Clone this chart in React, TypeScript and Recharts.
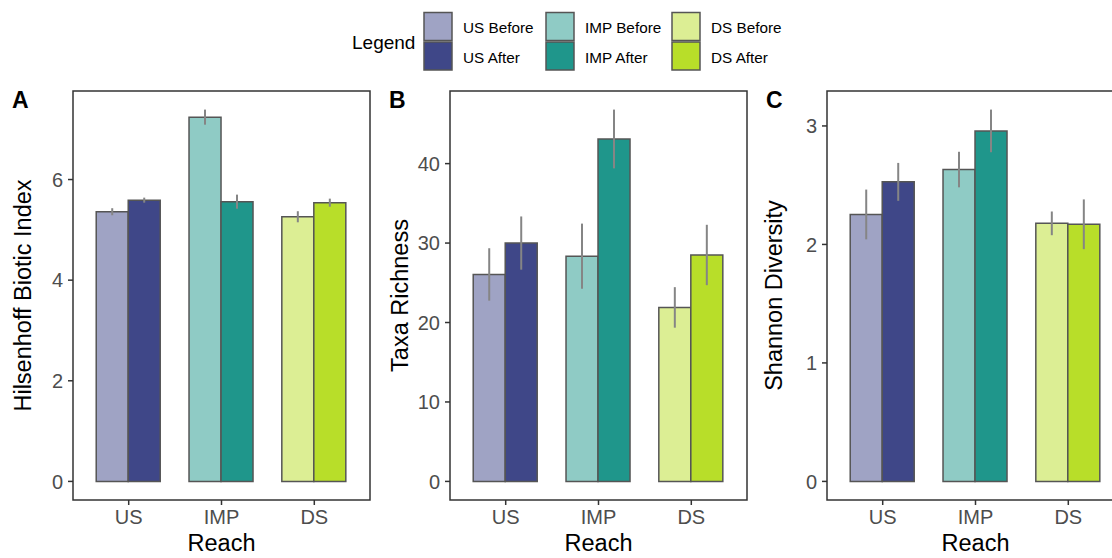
import * as React from 'react'
import { BarChart, Bar, XAxis, YAxis, Cell, ErrorBar } from 'recharts'

const REACHES = ['US', 'IMP', 'DS']

// Hilsenhoff Biotic Index (mean and SE)
const HBI_BEFORE = [5.36, 7.24, 5.26]
const HBI_BEFORE_SE = [0.07, 0.15, 0.11]
const HBI_AFTER = [5.59, 5.56, 5.54]
const HBI_AFTER_SE = [0.05, 0.14, 0.08]
const HBI_TICKS = [0, 2, 4, 6]

// Taxa richness
const RICH_BEFORE = [26.05, 28.35, 21.9]
const RICH_BEFORE_SE = [3.3, 4.1, 2.55]
const RICH_AFTER = [30.0, 43.1, 28.5]
const RICH_AFTER_SE = [3.35, 3.7, 3.8]
const RICH_TICKS = [0, 10, 20, 30, 40]

// Shannon diversity
const SHAN_BEFORE = [2.253, 2.632, 2.178]
const SHAN_BEFORE_SE = [0.21, 0.15, 0.1]
const SHAN_AFTER = [2.528, 2.958, 2.17]
const SHAN_AFTER_SE = [0.16, 0.18, 0.21]
const SHAN_TICKS = [0, 1, 2, 3]

const BEFORE_COLORS = ['#9fa3c4', '#8fcbc5', '#dcee94']
const AFTER_COLORS = ['#3f4788', '#1f968b', '#b8de29']

const FONT = '"Liberation Sans", Arial, sans-serif'
const TICK_STYLE = { fill: '#4d4d4d', fontSize: 20, fontFamily: FONT }
const BAR_STROKE = '#555555'
const ERR_COLOR = '#858585'

const CHART_H = 558
const PLOT_TOP = 91
const PLOT_W = 297
const X_AXIS_H = 58

function buildRows(before: number[], beforeSe: number[], after: number[], afterSe: number[]) {
  return REACHES.map((reach, i) => ({
    reach,
    before: before[i],
    beforeErr: beforeSe[i],
    after: after[i],
    afterErr: afterSe[i],
  }))
}

// ggplot-style 5% expansion around [0, max(mean + se)]
function ggDomain(before: number[], beforeSe: number[], after: number[], afterSe: number[]) {
  const tops = [...before.map((v, i) => v + beforeSe[i]), ...after.map((v, i) => v + afterSe[i])]
  const m = Math.max(...tops)
  return [-0.05 * m, 1.05 * m]
}

type PanelProps = {
  left: number
  yAxisWidth: number
  before: number[]
  beforeSe: number[]
  after: number[]
  afterSe: number[]
  ticks: number[]
}

function Panel({ left, yAxisWidth, before, beforeSe, after, afterSe, ticks }: PanelProps) {
  const data = buildRows(before, beforeSe, after, afterSe)
  const domain = ggDomain(before, beforeSe, after, afterSe)
  const width = yAxisWidth + PLOT_W + 10
  return (
    <div style={{ position: 'absolute', left, top: 0 }}>
      <BarChart
        width={width}
        height={CHART_H}
        data={data}
        margin={{ top: PLOT_TOP, right: 10, bottom: 0, left: 0 }}
        barCategoryGap="15%"
        barGap={0}
      >
        <XAxis
          dataKey="reach"
          height={X_AXIS_H}
          axisLine={false}
          tickSize={5}
          tickMargin={5}
          tickLine={{ stroke: '#333333', strokeWidth: 1.5 }}
          tick={TICK_STYLE}
          padding={{ left: 9.3, right: 9.3 }}
          interval={0}
        />
        <YAxis
          type="number"
          width={yAxisWidth}
          domain={domain}
          ticks={ticks}
          interval={0}
          allowDataOverflow
          axisLine={false}
          tickSize={5}
          tickMargin={5}
          tickLine={{ stroke: '#333333', strokeWidth: 1.5 }}
          tick={TICK_STYLE}
        />
        <Bar dataKey="before" stroke={BAR_STROKE} strokeWidth={1.5} isAnimationActive={false}>
          {data.map((_, i) => (
            <Cell key={`b-${i}`} fill={BEFORE_COLORS[i]} />
          ))}
          <ErrorBar dataKey="beforeErr" width={0} stroke={ERR_COLOR} strokeWidth={2} />
        </Bar>
        <Bar dataKey="after" stroke={BAR_STROKE} strokeWidth={1.5} isAnimationActive={false}>
          {data.map((_, i) => (
            <Cell key={`a-${i}`} fill={AFTER_COLORS[i]} />
          ))}
          <ErrorBar dataKey="afterErr" width={0} stroke={ERR_COLOR} strokeWidth={2} />
        </Bar>
      </BarChart>
    </div>
  )
}

const LEGEND_COLS = [424, 546, 672]

export default function App() {
  const plotLefts = [73, 450, 827]
  const yTitles = [
    { text: 'Hilsenhoff Biotic Index', x: 31 },
    { text: 'Taxa Richness', x: 408 },
    { text: 'Shannon Diversity', x: 782 },
  ]
  const letters = [
    { text: 'A', x: 12 },
    { text: 'B', x: 389 },
    { text: 'C', x: 766 },
  ]
  const plotMidY = PLOT_TOP + (CHART_H - X_AXIS_H - PLOT_TOP) / 2
  return (
    <div
      style={{
        position: 'absolute',
        left: 0,
        top: 0,
        width: 1112,
        height: 558,
        overflow: 'hidden',
        background: '#ffffff',
        fontFamily: FONT,
      }}
    >
      <Panel left={0} yAxisWidth={73} before={HBI_BEFORE} beforeSe={HBI_BEFORE_SE} after={HBI_AFTER} afterSe={HBI_AFTER_SE} ticks={HBI_TICKS} />
      <Panel left={380} yAxisWidth={70} before={RICH_BEFORE} beforeSe={RICH_BEFORE_SE} after={RICH_AFTER} afterSe={RICH_AFTER_SE} ticks={RICH_TICKS} />
      <Panel left={757} yAxisWidth={70} before={SHAN_BEFORE} beforeSe={SHAN_BEFORE_SE} after={SHAN_AFTER} afterSe={SHAN_AFTER_SE} ticks={SHAN_TICKS} />

      <svg
        width={1112}
        height={558}
        style={{ position: 'absolute', left: 0, top: 0, pointerEvents: 'none' }}
        fontFamily={FONT}
      >
        {plotLefts.map((x) => (
          <rect
            key={`border-${x}`}
            x={x}
            y={PLOT_TOP}
            width={PLOT_W}
            height={CHART_H - X_AXIS_H - PLOT_TOP}
            fill="none"
            stroke="#333333"
            strokeWidth={1.5}
          />
        ))}
        {plotLefts.map((x) => (
          <text key={`reach-${x}`} x={x + PLOT_W / 2} y={551} textAnchor="middle" fontSize={23.5} fill="#000">
            Reach
          </text>
        ))}
        {yTitles.map((t) => (
          <text
            key={t.text}
            x={t.x}
            y={plotMidY}
            transform={`rotate(-90, ${t.x}, ${plotMidY})`}
            textAnchor="middle"
            fontSize={23.5}
            fill="#000"
          >
            {t.text}
          </text>
        ))}
        {letters.map((l) => (
          <text key={l.text} x={l.x} y={108} fontSize={23} fontWeight="bold" fill="#000">
            {l.text}
          </text>
        ))}

        <text x={352} y={48.5} fontSize={19} fill="#000">
          Legend
        </text>
        {REACHES.map((reach, i) => (
          <g key={`leg-${reach}`}>
            <rect x={LEGEND_COLS[i]} y={12.5} width={28} height={28} fill={BEFORE_COLORS[i]} stroke={BAR_STROKE} strokeWidth={1.5} />
            <rect x={LEGEND_COLS[i]} y={42} width={28} height={28} fill={AFTER_COLORS[i]} stroke={BAR_STROKE} strokeWidth={1.5} />
            <text x={LEGEND_COLS[i] + 39} y={32.7} fontSize={15.3} fill="#000">
              {`${reach} Before`}
            </text>
            <text x={LEGEND_COLS[i] + 39} y={62.7} fontSize={15.3} fill="#000">
              {`${reach} After`}
            </text>
          </g>
        ))}
      </svg>
    </div>
  )
}
